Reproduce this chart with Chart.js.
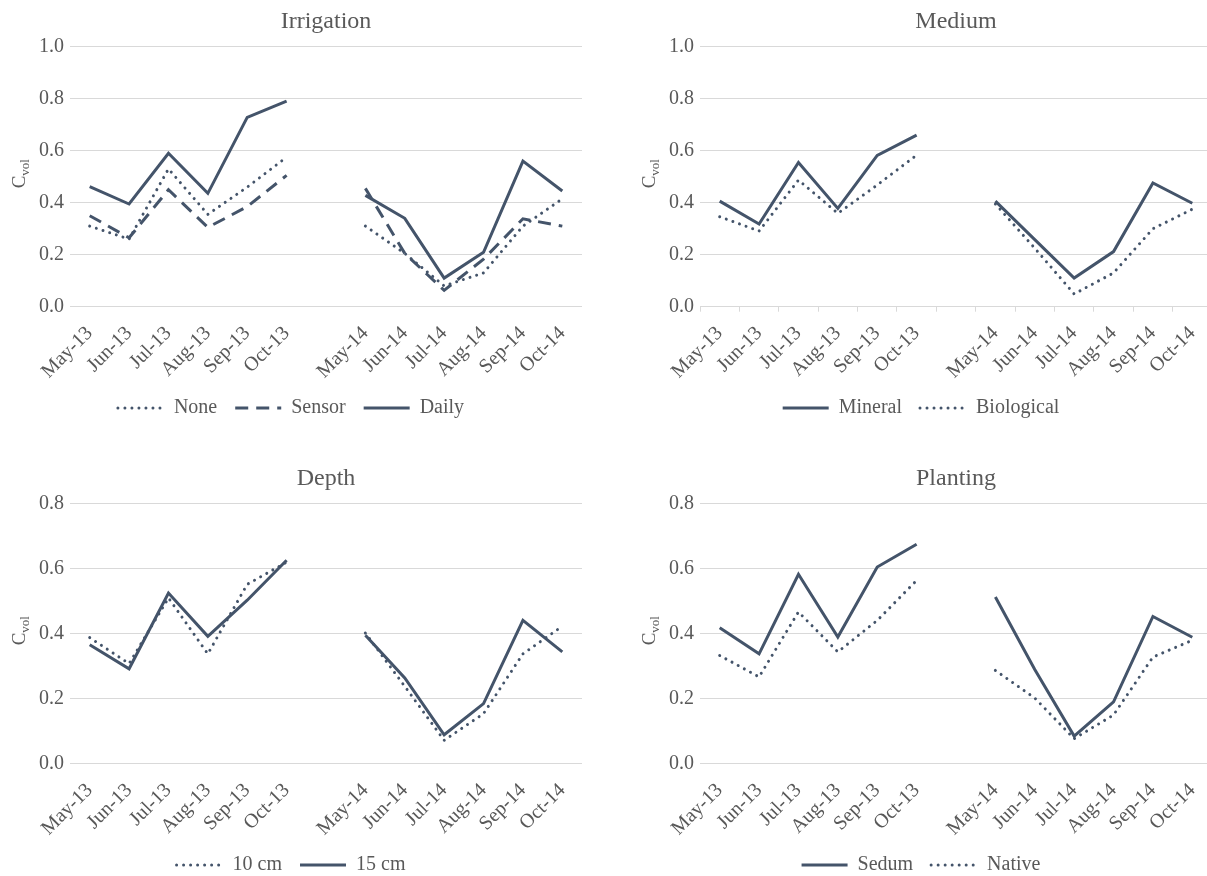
<!DOCTYPE html>
<html>
<head>
<meta charset="utf-8">
<script src="https://cdn.jsdelivr.net/npm/chart.js@4.4.1/dist/chart.umd.min.js"></script>
<style>
  html, body { margin: 0; padding: 0; background: #ffffff; overflow: hidden; }
  #wrap { position: relative; width: 1207px; height: 876px; overflow: hidden; background: #ffffff; }
  canvas { position: absolute; }
</style>
</head>
<body>
<div id="wrap">
  <canvas id="irrigation" width="600" height="428" style="left:0px;top:0px;"></canvas>
  <canvas id="medium" width="600" height="428" style="left:630px;top:0px;"></canvas>
  <canvas id="depth" width="600" height="428" style="left:0px;top:457px;"></canvas>
  <canvas id="planting" width="600" height="428" style="left:630px;top:457px;"></canvas>
</div>
<script>
// Sampling months; the blank entry separates the 2013 and 2014 seasons
const months = ['May-13', 'Jun-13', 'Jul-13', 'Aug-13', 'Sep-13', 'Oct-13', '',
                'May-14', 'Jun-14', 'Jul-14', 'Aug-14', 'Sep-14', 'Oct-14'];

// Irrigation treatment
const irrigationNone   = [0.31, 0.26, 0.53, 0.355, 0.46, 0.575, null, 0.31, 0.205, 0.08, 0.13, 0.31, 0.415];
const irrigationSensor = [0.35, 0.265, 0.45, 0.305, 0.385, 0.505, null, 0.455, 0.205, 0.063, 0.183, 0.338, 0.31];
const irrigationDaily  = [0.462, 0.395, 0.59, 0.436, 0.728, 0.791, null, 0.428, 0.34, 0.11, 0.209, 0.56, 0.445];

// Growing medium
const mediumMineral    = [0.406, 0.318, 0.555, 0.378, 0.582, 0.66, null, 0.406, 0.258, 0.11, 0.212, 0.476, 0.398];
const mediumBiological = [0.346, 0.291, 0.487, 0.359, 0.468, 0.583, null, 0.395, 0.225, 0.049, 0.13, 0.3, 0.375];

// Medium depth
const depth10 = [0.388, 0.308, 0.51, 0.338, 0.552, 0.62, null, 0.402, 0.238, 0.072, 0.154, 0.338, 0.423];
const depth15 = [0.366, 0.292, 0.525, 0.392, 0.503, 0.626, null, 0.395, 0.264, 0.089, 0.185, 0.441, 0.344];

// Planting
const plantingSedum  = [0.418, 0.338, 0.583, 0.39, 0.605, 0.675, null, 0.513, 0.29, 0.085, 0.19, 0.453, 0.389];
const plantingNative = [0.333, 0.267, 0.467, 0.344, 0.441, 0.564, null, 0.287, 0.202, 0.077, 0.15, 0.328, 0.38];

// Y-axis tick values
const ticksTall  = [0, 0.2, 0.4, 0.6, 0.8, 1.0];
const ticksShort = [0, 0.2, 0.4, 0.6, 0.8];

const INK = '#44546a';
const TEXT = '#595959';
const GRID = '#d9d9d9';
const SERIF = '"Liberation Serif", "Times New Roman", serif';

const solid  = { borderDash: [], borderCapStyle: 'butt' };
const dotted = { borderDash: [0.01, 7], borderCapStyle: 'round' };
const dashed = { borderDash: [13, 8], borderCapStyle: 'butt' };

function series(label, data, style) {
  return Object.assign({
    label: label,
    data: data,
    borderColor: INK,
    backgroundColor: INK,
    borderWidth: 3,
    pointRadius: 0,
    pointHoverRadius: 0,
    tension: 0,
    spanGaps: false,
    borderJoinStyle: 'miter'
  }, style);
}

// Legend entries show each series' own line pattern
function lineLegendItems(chart) {
  return chart.data.datasets.map((ds, i) => ({
    text: ds.label,
    fontColor: TEXT,
    strokeStyle: ds.borderColor,
    fillStyle: 'rgba(0,0,0,0)',
    lineWidth: ds.borderWidth,
    lineDash: ds.borderDash,
    lineCap: ds.borderCapStyle,
    pointStyle: 'line',
    hidden: false,
    datasetIndex: i
  }));
}

// Rotated "C" with subscript "vol" beside the value axis
const cvolTitle = {
  id: 'cvolTitle',
  afterDraw(chart) {
    const { ctx, chartArea } = chart;
    const cx = chartArea.left - 45;
    const cy = (chartArea.top + chartArea.bottom) / 2 - 3;
    ctx.save();
    ctx.translate(cx, cy);
    ctx.rotate(-Math.PI / 2);
    ctx.fillStyle = TEXT;
    ctx.textBaseline = 'alphabetic';
    ctx.textAlign = 'left';
    ctx.font = '19px ' + SERIF;
    const wC = ctx.measureText('C').width;
    ctx.font = '13px ' + SERIF;
    const wSub = ctx.measureText('vol').width;
    const x0 = -(wC + wSub) / 2;
    ctx.font = '19px ' + SERIF;
    ctx.fillText('C', x0, 0);
    ctx.font = '13px ' + SERIF;
    ctx.fillText('vol', x0 + wC, 4);
    ctx.restore();
  }
};

function panel(id, title, datasets, yTicks, withTickMarks) {
  const yMax = yTicks[yTicks.length - 1];
  new Chart(document.getElementById(id), {
    type: 'line',
    data: { labels: months, datasets: datasets },
    plugins: [cvolTitle],
    options: {
      responsive: false,
      animation: false,
      events: [],
      layout: { padding: { left: 0, right: 18, top: 0, bottom: 0 } },
      plugins: {
        title: {
          display: true,
          text: title,
          fullSize: false,
          color: TEXT,
          font: { family: SERIF, size: 24, weight: 'normal' },
          padding: { top: 7, bottom: 10.9 }
        },
        legend: {
          display: true,
          position: 'bottom',
          labels: {
            usePointStyle: true,
            pointStyle: 'line',
            pointStyleWidth: 46,
            boxHeight: 20,
            padding: 18,
            color: TEXT,
            font: { family: SERIF, size: 20 },
            generateLabels: lineLegendItems
          }
        },
        tooltip: { enabled: false }
      },
      scales: {
        x: {
          type: 'category',
          offset: true,
          afterFit(scale) { scale.height = 73.3; },
          border: { display: withTickMarks, color: GRID, width: 1 },
          grid: {
            display: withTickMarks,
            drawOnChartArea: false,
            drawTicks: withTickMarks,
            tickLength: 5,
            offset: true,
            color: GRID,
            lineWidth: 1
          },
          ticks: {
            autoSkip: false,
            minRotation: 45,
            maxRotation: 45,
            padding: withTickMarks ? 10 : 15,
            color: TEXT,
            font: { family: SERIF, size: 20 }
          }
        },
        y: {
          min: 0,
          max: yMax,
          afterFit(scale) { scale.width = 70; },
          afterBuildTicks(scale) { scale.ticks = yTicks.map(v => ({ value: v })); },
          border: { display: false },
          grid: { color: GRID, lineWidth: 1, drawTicks: false },
          ticks: {
            padding: 6,
            color: TEXT,
            font: { family: SERIF, size: 20 },
            callback: v => Number(v).toFixed(1)
          }
        }
      }
    }
  });
}

panel('irrigation', 'Irrigation', [
  series('None', irrigationNone, dotted),
  series('Sensor', irrigationSensor, dashed),
  series('Daily', irrigationDaily, solid)
], ticksTall, false);

panel('medium', 'Medium', [
  series('Mineral', mediumMineral, solid),
  series('Biological', mediumBiological, dotted)
], ticksTall, true);

panel('depth', 'Depth', [
  series('10 cm', depth10, dotted),
  series('15 cm', depth15, solid)
], ticksShort, false);

panel('planting', 'Planting', [
  series('Sedum', plantingSedum, solid),
  series('Native', plantingNative, dotted)
], ticksShort, false);
</script>
</body>
</html>
